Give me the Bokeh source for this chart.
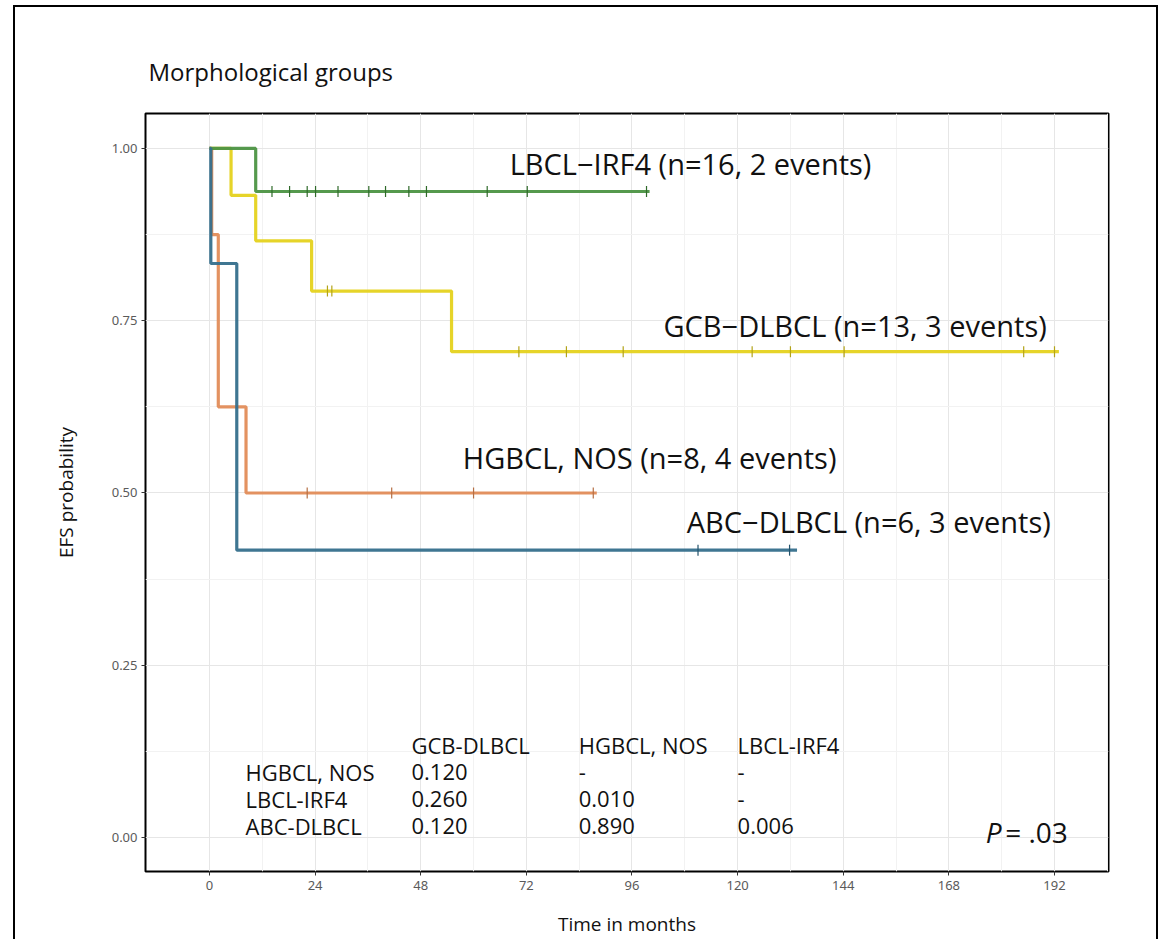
from bokeh.plotting import figure
from bokeh.models import ColumnDataSource, FixedTicker, Range1d, CustomJSTickFormatter
from bokeh.layouts import column
from bokeh.embed import file_html
from bokeh.resources import INLINE
from bokeh.core.properties import value

# ---------------- data ----------------
gcb_times = [0.0, 4.9, 10.5, 23.2, 55.0]
gcb_surv = [1.0, 0.932, 0.866, 0.793, 0.705]
gcb_end = 193.0
gcb_censor = [26.8, 27.8, 70.3, 81.1, 94.0, 123.3, 132.0, 144.2, 185.0, 192.0]

hgb_times = [0.0, 0.5, 2.0, 8.3]
hgb_surv = [1.0, 0.875, 0.625, 0.5]
hgb_end = 88.0
hgb_censor = [22.2, 41.4, 60.0, 87.2]

lbcl_times = [0.0, 10.5]
lbcl_surv = [1.0, 0.9375]
lbcl_end = 100.0
lbcl_censor = [14.2, 18.2, 22.2, 24.1, 29.2, 36.2, 40.0, 45.3, 49.3, 63.1, 72.2, 99.3]

abc_times = [0.0, 0.3, 6.2]
abc_surv = [1.0, 0.833, 0.417]
abc_end = 133.5
abc_censor = [111.0, 131.8]

curve_labels = ["LBCL\u2212IRF4 (n=16, 2 events)",
                "GCB\u2212DLBCL (n=13, 3 events)",
                "HGBCL, NOS (n=8, 4 events)",
                "ABC\u2212DLBCL (n=6, 3 events)"]

tbl_cols = ["GCB-DLBCL", "HGBCL, NOS", "LBCL-IRF4"]
tbl_rows = ["HGBCL, NOS", "LBCL-IRF4", "ABC-DLBCL"]
tbl_vals = [["0.120", "-", "-"],
            ["0.260", "0.010", "-"],
            ["0.120", "0.890", "0.006"]]
p_value = "= .03"

x_ticks = [0, 24, 48, 72, 96, 120, 144, 168, 192]
y_ticks = [0.0, 0.25, 0.5, 0.75, 1.0]

# ---------------- styles ----------------
colors = {"gcb": "#e5d21e", "hgb": "#e28c58", "lbcl": "#4c9443", "abc": "#356f8c"}
mark_colors = {"gcb": "#b3a318", "hgb": "#b56f44", "lbcl": "#2f6a2a", "abc": "#23536c"}
FONT = "Open Sans"

p = figure(width=1141, height=932, output_backend="svg", toolbar_location=None,
           x_range=Range1d(-14.54, 204.27), y_range=Range1d(-0.0493, 1.0507),
           min_border_left=130, min_border_right=48, min_border_top=106,
           min_border_bottom=67)

p.title.text = "Morphological groups"
p.title.align = "left"
p.title.offset = 3
p.title.text_font = FONT
p.title.text_font_size = "24px"
p.title.text_font_style = "normal"
p.title.text_color = "#111111"
p.title.standoff = 52

p.outline_line_color = "black"
p.outline_line_width = 2
p.outline_line_alpha = 1.0

p.xaxis.ticker = FixedTicker(ticks=x_ticks, minor_ticks=[12, 36, 60, 84, 108, 132, 156, 180, 204])
p.yaxis.ticker = FixedTicker(ticks=y_ticks, minor_ticks=[0.125, 0.375, 0.625, 0.875])
p.yaxis.formatter = CustomJSTickFormatter(code="return tick.toFixed(2);")

for ax in (p.xaxis[0], p.yaxis[0]):
    ax.axis_line_color = None
    ax.major_tick_line_color = "#333333"
    ax.major_tick_line_width = 1
    ax.major_tick_out = 4
    ax.major_tick_in = 0
    ax.minor_tick_line_color = None
    ax.major_label_text_color = "#5a5a5a"
    ax.major_label_text_font = "Noto Sans"
    ax.major_label_text_font_size = "13px"
    ax.axis_label_text_font = FONT
    ax.axis_label_text_font_size = "19px"
    ax.axis_label_text_font_style = "normal"
    ax.axis_label_text_color = "#111111"

p.xaxis.axis_label = "Time in months"
p.yaxis.axis_label = "EFS probability"
p.xaxis.major_label_standoff = 5
p.yaxis.major_label_standoff = 4
p.xaxis.axis_label_standoff = 18
p.yaxis.axis_label_standoff = 30

p.xgrid.grid_line_color = "#e6e6e6"
p.ygrid.grid_line_color = "#e6e6e6"
p.xgrid.minor_grid_line_color = "#f2f2f2"
p.ygrid.minor_grid_line_color = "#f2f2f2"


def surv_at(times, surv, t):
    s = surv[0]
    for ti, si in zip(times, surv):
        if ti <= t:
            s = si
    return s


series = [
    ("gcb", gcb_times, gcb_surv, gcb_end, gcb_censor),
    ("hgb", hgb_times, hgb_surv, hgb_end, hgb_censor),
    ("lbcl", lbcl_times, lbcl_surv, lbcl_end, lbcl_censor),
    ("abc", abc_times, abc_surv, abc_end, abc_censor),
]

for key, times, surv, end, cens in series:
    xs = list(times) + [end]
    ys = list(surv) + [surv[-1]]
    p.step(xs, ys, mode="after", line_color=colors[key], line_width=3.2, line_alpha=0.95)
    cy = [surv_at(times, surv, t) for t in cens]
    p.scatter(cens, cy, marker="dash", angle=1.5708, size=11, line_color=mark_colors[key],
              line_width=1.2, fill_color=None)

# curve labels
lab_src = ColumnDataSource(dict(x=[109.3, 146.7, 100.0, 149.8],
                                y=[0.978, 0.743, 0.551, 0.458],
                                text=curve_labels))
p.text(x="x", y="y", text="text", source=lab_src, text_font=value(FONT),
       text_font_size="29px", text_align="center", text_baseline="middle",
       text_color="#111111")

# p-value table
col_x = [45.9, 83.9, 120.0]
row_x = 8.2
head_y = 0.135
row_y = [0.0957, 0.0565, 0.0174]
tx, ty, tt = [], [], []
for cx, c in zip(col_x, tbl_cols):
    tx.append(cx); ty.append(head_y); tt.append(c)
for ry, r, vals in zip(row_y, tbl_rows, tbl_vals):
    tx.append(row_x); ty.append(ry); tt.append(r)
    for cx, v in zip(col_x, vals):
        tx.append(cx); ty.append(ry); tt.append(v)
tbl_src = ColumnDataSource(dict(x=tx, y=ty, text=tt))
p.text(x="x", y="y", text="text", source=tbl_src, text_font=value(FONT),
       text_font_size="22px", text_align="left", text_baseline="middle",
       text_color="#111111")

# P value
p.text(x=[176.4], y=[0.008], text=["P"], text_font=value(FONT), text_font_size="28px",
       text_font_style="italic", text_align="left", text_baseline="middle", text_color="#111111")
p.text(x=[180.8], y=[0.008], text=[p_value], text_font=value(FONT), text_font_size="28px",
       text_align="left", text_baseline="middle", text_color="#111111")

layout = column(p, margin=(5, 0, -8, 13),
                styles={"border-top": "2px solid black", "border-left": "2px solid black",
                        "border-right": "2px solid black"})

open("out.html", "w").write(file_html(layout, INLINE))
